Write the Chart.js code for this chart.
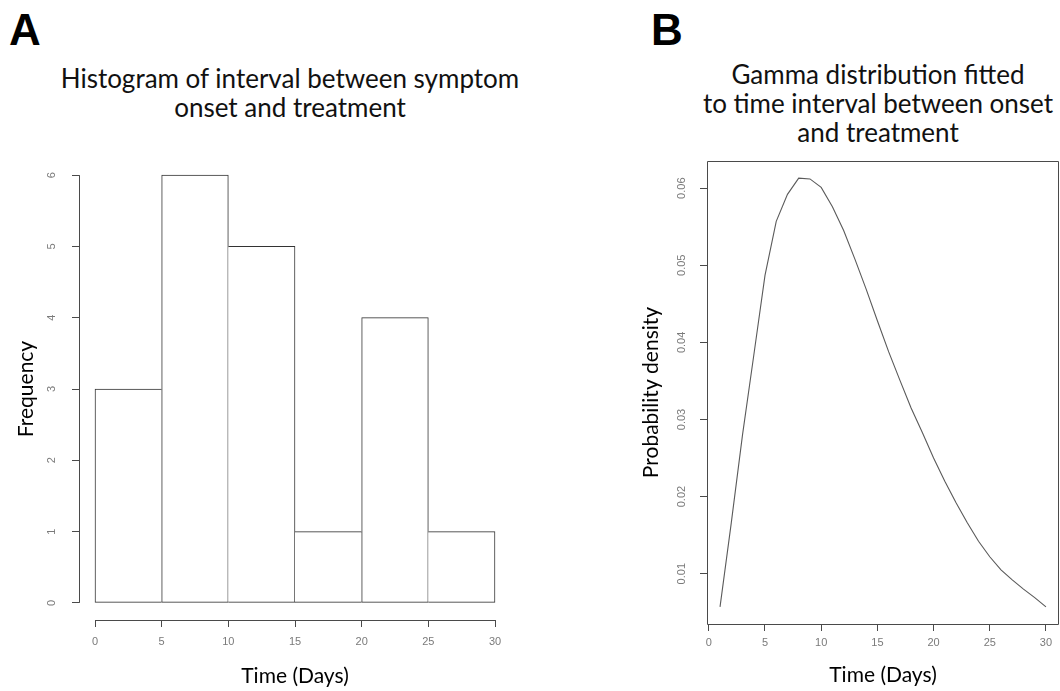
<!DOCTYPE html>
<html lang="en">
<head>
    <meta charset="UTF-8">
    <title>Onset to treatment interval</title>
    <script src="https://cdn.jsdelivr.net/npm/chart.js"></script>
    <style>
        body { margin: 0; background: #fff; }
        #wrap { position: relative; width: 1060px; height: 691px; overflow: hidden; }
        canvas { position: absolute; top: 0; }
        #histA { left: 0; }
        #gammaB { left: 530px; }
        .panel {
            position: absolute; top: 8px;
            font-family: "Liberation Sans", Arial, sans-serif;
            font-weight: bold; font-size: 44px; line-height: 44px; color: #000;
        }
        .title {
            position: absolute; width: 500px; text-align: center; white-space: nowrap;
            font-family: Lato, sans-serif; font-size: 26px; line-height: 29px; color: #111;
        }
    </style>
</head>
<body>
<div id="wrap">
    <div class="panel" style="left:9px">A</div>
    <div class="panel" style="left:651px">B</div>
    <div class="title" style="left:40px; top:64px">Histogram of interval between symptom<br>onset and treatment</div>
    <div class="title" style="left:628px; top:60px">Gamma distribution fitted<br>to time interval between onset<br>and treatment</div>
    <canvas id="histA" width="530" height="691"></canvas>
    <canvas id="gammaB" width="530" height="691"></canvas>
</div>

<script>
    // ---- values ----
    const binEdges = [0, 5, 10, 15, 20, 25, 30];
    const binCounts = [3, 6, 5, 1, 4, 1];
    const freqTicks = [0, 1, 2, 3, 4, 5, 6];
    const dayTicks = [0, 5, 10, 15, 20, 25, 30];

    const days = [1, 2, 3, 4, 5, 6, 7, 8, 9, 10, 11, 12, 13, 14, 15,
                  16, 17, 18, 19, 20, 21, 22, 23, 24, 25, 26, 27, 28, 29, 30];
    const density = [0.0057, 0.0166, 0.0280, 0.0383, 0.0487, 0.0557, 0.0592, 0.0613, 0.0612, 0.0601,
                     0.0576, 0.0545, 0.0508, 0.0469, 0.0428, 0.0388, 0.0351, 0.0315, 0.0283, 0.0250,
                     0.0220, 0.0192, 0.0166, 0.0142, 0.0122, 0.0105, 0.0092, 0.0080, 0.0069, 0.0057];
    const densTicks = [0.01, 0.02, 0.03, 0.04, 0.05, 0.06];

    const tickFont = { family: '"Liberation Sans", Arial, sans-serif', size: 11 };
    const labelFont = { family: 'Lato, sans-serif', size: 21 };
    const tickGrey = '#7a7a7a';
    const lineGrey = '#4a4a4a';

    // R style axes: extend data range by 4% on each side
    function rRange(lo, hi) {
        const d = (hi - lo) * 0.04;
        return [lo - d, hi + d];
    }

    // draws the R-like axis lines / box and the rotated y tick labels
    const rAxes = {
        id: 'rAxes',
        afterDraw(chart, args, opts) {
            const { ctx, chartArea: ca, scales: { x, y } } = chart;
            ctx.save();
            ctx.strokeStyle = lineGrey;
            ctx.lineWidth = 1;
            ctx.beginPath();
            if (opts.box) {
                ctx.rect(Math.round(ca.left) + 0.5, Math.round(ca.top) + 0.5,
                         Math.round(ca.right - ca.left) - 1, Math.round(ca.bottom - ca.top));
            } else {
                const x0 = Math.round(ca.left) + 0.5;
                ctx.moveTo(x0, y.getPixelForValue(opts.yFrom));
                ctx.lineTo(x0, y.getPixelForValue(opts.yTo));
                const y0 = Math.round(ca.bottom) + 0.5;
                ctx.moveTo(x.getPixelForValue(opts.xFrom), y0);
                ctx.lineTo(x.getPixelForValue(opts.xTo), y0);
            }
            ctx.stroke();

            ctx.fillStyle = tickGrey;
            ctx.font = tickFont.size + 'px ' + tickFont.family;
            ctx.textAlign = 'center';
            ctx.textBaseline = 'middle';
            y.ticks.forEach(t => {
                ctx.save();
                ctx.translate(ca.left - opts.labelGap, y.getPixelForValue(t.value));
                ctx.rotate(-Math.PI / 2);
                ctx.fillText(opts.fmt(t.value), 0, 0);
                ctx.restore();
            });
            ctx.restore();
        }
    };

    function tickAxis(ticks, extra) {
        return Object.assign({
            offset: false,
            border: { display: false },
            grid: { offset: false, drawOnChartArea: false, drawTicks: true, tickLength: 7, tickColor: lineGrey },
            afterBuildTicks: s => { s.ticks = ticks.map(v => ({ value: v })); }
        }, extra);
    }

    // ---- A: histogram ----
    const histX = rRange(binEdges[0], binEdges[binEdges.length - 1]);
    const histY = rRange(0, Math.max(...freqTicks));

    // a shared edge between two bars is drawn once, by the taller bar
    function barBorder(ctx) {
        const i = ctx.dataIndex;
        const h = binCounts[i];
        const prev = i > 0 ? binCounts[i - 1] : -1;
        const next = i < binCounts.length - 1 ? binCounts[i + 1] : -1;
        return { top: 1, bottom: 1, left: h > prev ? 1 : 0, right: h >= next ? 1 : 0 };
    }

    new Chart(document.getElementById('histA'), {
        type: 'bar',
        data: {
            datasets: [{
                data: binCounts.map((c, i) => ({ x: (binEdges[i] + binEdges[i + 1]) / 2, y: c })),
                backgroundColor: '#ffffff',
                borderColor: '#333333',
                borderWidth: barBorder,
                borderSkipped: false,
                barPercentage: 1,
                categoryPercentage: 1
            }]
        },
        options: {
            responsive: false,
            animation: false,
            layout: { padding: { top: 158, right: 19, bottom: 0, left: 0 } },
            plugins: {
                legend: { display: false },
                tooltip: { enabled: false },
                rAxes: { yFrom: 0, yTo: 6, xFrom: 0, xTo: 30, labelGap: 27, fmt: v => String(v) }
            },
            scales: {
                x: tickAxis(dayTicks, {
                    type: 'linear', min: histX[0], max: histX[1],
                    ticks: { font: tickFont, color: tickGrey, padding: 8, maxRotation: 0 },
                    title: { display: true, text: 'Time (Days)', font: labelFont, color: '#000', padding: { top: 0, bottom: 2 } },
                    afterFit: s => { s.height = 71; }
                }),
                y: tickAxis(freqTicks, {
                    min: histY[0], max: histY[1],
                    ticks: { display: false },
                    title: { display: true, text: 'Frequency', font: labelFont, color: '#000', padding: { top: 14, bottom: 0 } },
                    afterFit: s => { s.width = 79; }
                })
            }
        },
        plugins: [rAxes]
    });

    // ---- B: fitted gamma density ----
    const gamX = rRange(days[0], days[days.length - 1]);
    const gamY = rRange(Math.min(...density), Math.max(...density));

    new Chart(document.getElementById('gammaB'), {
        type: 'line',
        data: {
            datasets: [{
                data: days.map((d, i) => ({ x: d, y: density[i] })),
                borderColor: '#5a5a5a',
                borderWidth: 1.1,
                pointRadius: 0,
                tension: 0,
                fill: false
            }]
        },
        options: {
            responsive: false,
            animation: false,
            layout: { padding: { top: 161, right: 1, bottom: 0, left: 0 } },
            plugins: {
                legend: { display: false },
                tooltip: { enabled: false },
                rAxes: { box: true, labelGap: 25, fmt: v => v.toFixed(2) }
            },
            scales: {
                x: tickAxis(dayTicks, {
                    type: 'linear', min: gamX[0], max: gamX[1],
                    ticks: { font: tickFont, color: tickGrey, padding: 5, maxRotation: 0 },
                    title: { display: true, text: 'Time (Days)', font: labelFont, color: '#000', padding: { top: 0, bottom: 3 } },
                    afterFit: s => { s.height = 67; }
                }),
                y: tickAxis(densTicks, {
                    min: gamY[0], max: gamY[1],
                    ticks: { display: false },
                    title: { display: true, text: 'Probability density', font: labelFont, color: '#000', padding: { top: 109, bottom: 0 } },
                    afterFit: s => { s.width = 177; }
                })
            }
        },
        plugins: [rAxes]
    });
</script>
</body>
</html>
